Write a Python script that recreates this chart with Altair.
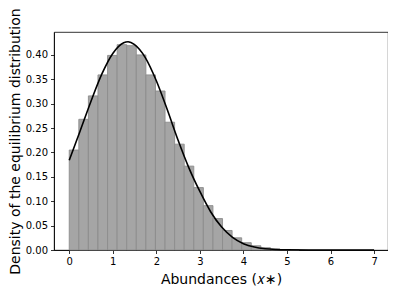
import altair as alt
import pandas as pd

# Histogram bins (width ~0.22) and densities
bin_start = [0.00, 0.22, 0.44, 0.66, 0.88, 1.10, 1.32, 1.54, 1.76, 1.98, 2.20, 2.42,
             2.64, 2.86, 3.08, 3.30, 3.52, 3.74, 3.96, 4.18, 4.40, 4.62, 4.84, 5.06]
bin_end = [0.22, 0.44, 0.66, 0.88, 1.10, 1.32, 1.54, 1.76, 1.98, 2.20, 2.42, 2.64,
           2.86, 3.08, 3.30, 3.52, 3.74, 3.96, 4.18, 4.40, 4.62, 4.84, 5.06, 5.28]
density = [0.205, 0.268, 0.316, 0.359, 0.399, 0.421, 0.419, 0.400, 0.359, 0.326, 0.262, 0.217,
           0.172, 0.128, 0.091, 0.0645, 0.040, 0.025, 0.015, 0.0087, 0.0047, 0.0022, 0.0010, 0.0004]

# Fitted density curve
curve_x = [0.0, 0.25, 0.5, 0.75, 1.0, 1.25, 1.35, 1.5, 1.75, 2.0, 2.25, 2.5, 2.75,
           3.0, 3.25, 3.5, 3.75, 4.0, 4.25, 4.5, 4.75, 5.0, 5.5, 6.0, 6.5, 7.0]
curve_y = [0.184, 0.244, 0.305, 0.361, 0.403, 0.425, 0.427, 0.421, 0.394, 0.347, 0.288, 0.225, 0.168,
           0.120, 0.078, 0.047, 0.026, 0.013, 0.006, 0.0025, 0.001, 0.0004, 0.0001, 0.0, 0.0, 0.0]

x_ticks = [0, 1, 2, 3, 4, 5, 6, 7]
y_ticks = [0.0, 0.05, 0.10, 0.15, 0.20, 0.25, 0.30, 0.35, 0.40]

bars_df = pd.DataFrame({"start": bin_start, "end": bin_end, "density": density})
curve_df = pd.DataFrame({"x": curve_x, "y": curve_y})

xscale = alt.Scale(domain=[-0.35, 7.32], nice=False, zero=False)
yscale = alt.Scale(domain=[0, 0.447], nice=False, zero=True)

x_axis = alt.Axis(values=x_ticks, format="d", title="Abundances (𝑥∗)", titlePadding=6)
y_axis = alt.Axis(values=y_ticks, format=".2f", labelOverlap=False,
                  title="Density of the equilibrium distribution", titlePadding=3)

bars = alt.Chart(bars_df).mark_rect(
    fill="#a5a5a5", stroke="#8c8c8c", strokeWidth=0.9
).encode(
    x=alt.X("start:Q", scale=xscale, axis=x_axis),
    x2="end:Q",
    y=alt.Y("density:Q", scale=yscale, axis=y_axis),
    y2=alt.datum(0),
)

line = alt.Chart(curve_df).mark_line(
    color="black", strokeWidth=1.6, interpolate="monotone"
).encode(
    x=alt.X("x:Q", scale=xscale, axis=x_axis),
    y=alt.Y("y:Q", scale=yscale, axis=y_axis),
)

chart = alt.layer(bars, line).properties(
    width=334, height=218,
    autosize=alt.AutoSizeParams(type="none"),
    padding={"left": 46, "top": 24, "right": 0, "bottom": 36},
).configure_view(
    stroke="black", strokeWidth=0.8
).configure_axis(
    grid=False,
    labelFont="DejaVu Sans", labelFontSize=10, labelColor="black", labelPadding=3,
    labelOverlap=False,
    tickColor="black", tickSize=3.5, tickWidth=0.8,
    domainColor="black", domainWidth=0.8,
    titleFont="DejaVu Sans", titleFontSize=14, titleFontWeight="normal", titleColor="black",
)

chart.save("out.html", embed_options={"renderer": "svg", "actions": False})
